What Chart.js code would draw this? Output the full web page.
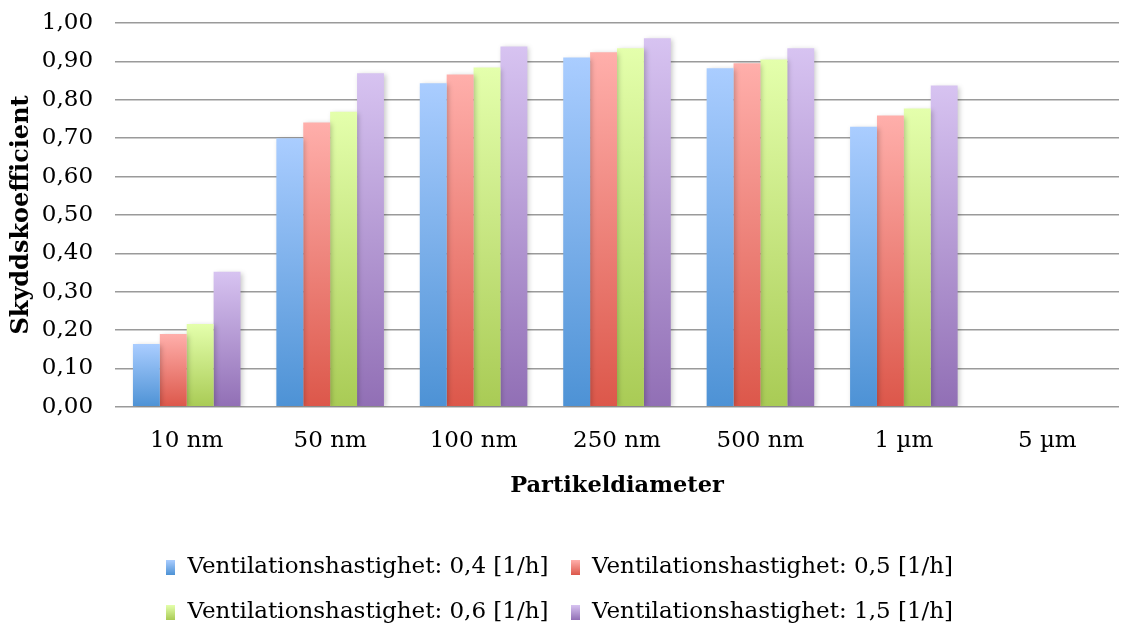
<!DOCTYPE html>
<html>
<head>
<meta charset="utf-8">
<script src="https://cdn.jsdelivr.net/npm/chart.js"></script>
<style>
  html, body { margin: 0; padding: 0; background: #fff; }
  #wrap { width: 1129px; height: 629px; }
</style>
</head>
<body>
<div id="wrap"><canvas id="c" width="1129" height="629"></canvas></div>
<script>
// data
const categories = ['10 nm', '50 nm', '100 nm', '250 nm', '500 nm', '1 µm', '5 µm'];
const seriesNames = [
    'Ventilationshastighet: 0,4 [1/h]',
    'Ventilationshastighet: 0,5 [1/h]',
    'Ventilationshastighet: 0,6 [1/h]',
    'Ventilationshastighet: 1,5 [1/h]'
];
const vent04 = [0.164, 0.700, 0.843, 0.910, 0.882, 0.730, null];
const vent05 = [0.190, 0.741, 0.866, 0.924, 0.895, 0.759, null];
const vent06 = [0.216, 0.769, 0.884, 0.934, 0.905, 0.777, null];
const vent15 = [0.352, 0.869, 0.939, 0.960, 0.934, 0.837, null];
const yTicks = [0, 0.1, 0.2, 0.3, 0.4, 0.5, 0.6, 0.7, 0.8, 0.9, 1.0];

// gradient pairs (top, bottom) like the office-style fills
const fills = [
    ['#aacdff', '#4d92d5'],
    ['#ffafab', '#dc574a'],
    ['#e4ffac', '#a9cb55'],
    ['#d7c3f1', '#916fb5']
];

const FONT = "'DejaVu Serif', 'Liberation Serif', serif";
const FS = 23;

function barFill(top, bottom){
    return function(c){
        const chart = c.chart;
        if(c.type !== 'data' || !chart.chartArea || c.raw == null) return bottom;
        const ys = chart.scales.y;
        const y0 = ys.getPixelForValue(c.raw), y1 = ys.getPixelForValue(0);
        const g = chart.ctx.createLinearGradient(0, y0, 0, y1);
        g.addColorStop(0, top); g.addColorStop(1, bottom);
        return g;
    };
}

function swatch(top, bottom){
    const cv = document.createElement('canvas');
    cv.width = 9; cv.height = 15;
    const x = cv.getContext('2d');
    const g = x.createLinearGradient(0, 0, 0, 15);
    g.addColorStop(0, top); g.addColorStop(1, bottom);
    x.fillStyle = g; x.fillRect(0, 0, 9, 15);
    return cv;
}
const swatches = fills.map(f => swatch(f[0], f[1]));

const seriesData = [vent04, vent05, vent06, vent15];

// soft drop shadow under the bars
const barShadow = {
    id: 'barShadow',
    beforeDatasetsDraw(chart){
        const ctx = chart.ctx;
        ctx.save();
        ctx.shadowColor = 'rgba(0,0,0,0.22)';
        ctx.shadowBlur = 5;
        ctx.shadowOffsetX = 2;
        ctx.shadowOffsetY = 1;
    },
    afterDatasetsDraw(chart){ chart.ctx.restore(); }
};

new Chart(document.getElementById('c'), {
    type: 'bar',
    data: {
        labels: categories,
        datasets: seriesData.map((d, i) => ({
            label: seriesNames[i],
            data: d,
            backgroundColor: barFill(fills[i][0], fills[i][1]),
            borderWidth: 0,
            categoryPercentage: 0.75,
            barPercentage: 1.0
        }))
    },
    options: {
        responsive: false,
        animation: false,
        layout: { padding: { left: 0, right: 10, top: 0, bottom: -5 } },
        scales: {
            x: {
                grid: { display: false, drawTicks: false },
                border: { display: false },
                ticks: { color: '#000', font: { family: FONT, size: FS }, padding: 20 },
                title: {
                    display: true, text: 'Partikeldiameter', color: '#000',
                    font: { family: FONT, size: 22.5, weight: 'bold', lineHeight: 1.0 },
                    padding: { top: 0, bottom: 37 }
                }
            },
            y: {
                min: 0, max: 1,
                afterBuildTicks(axis){ axis.ticks = yTicks.map(v => ({ value: v })); },
                afterFit(axis){ axis.width -= 16; axis.paddingTop = 23; },
                grid: { color: '#9a9a9a', lineWidth: 1.6, drawTicks: false },
                border: { display: false },
                ticks: {
                    color: '#000', font: { family: FONT, size: FS }, padding: 22,
                    callback: v => Number(v).toFixed(2).replace('.', ',')
                },
                title: {
                    display: true, text: 'Skyddskoefficient', color: '#000',
                    font: { family: FONT, size: 24, weight: 'bold' },
                    padding: { top: 7, bottom: 0 }
                }
            }
        },
        plugins: {
            tooltip: { enabled: false },
            legend: {
                position: 'bottom',
                labels: {
                    color: '#000',
                    font: { family: FONT, size: FS },
                    usePointStyle: true,
                    boxWidth: 10,
                    padding: 22,
                    generateLabels(chart){
                        const items = Chart.defaults.plugins.legend.labels.generateLabels(chart);
                        items.forEach((it, i) => { it.pointStyle = swatches[i]; });
                        return items;
                    }
                }
            }
        }
    },
    plugins: [barShadow]
});
</script>
</body>
</html>
